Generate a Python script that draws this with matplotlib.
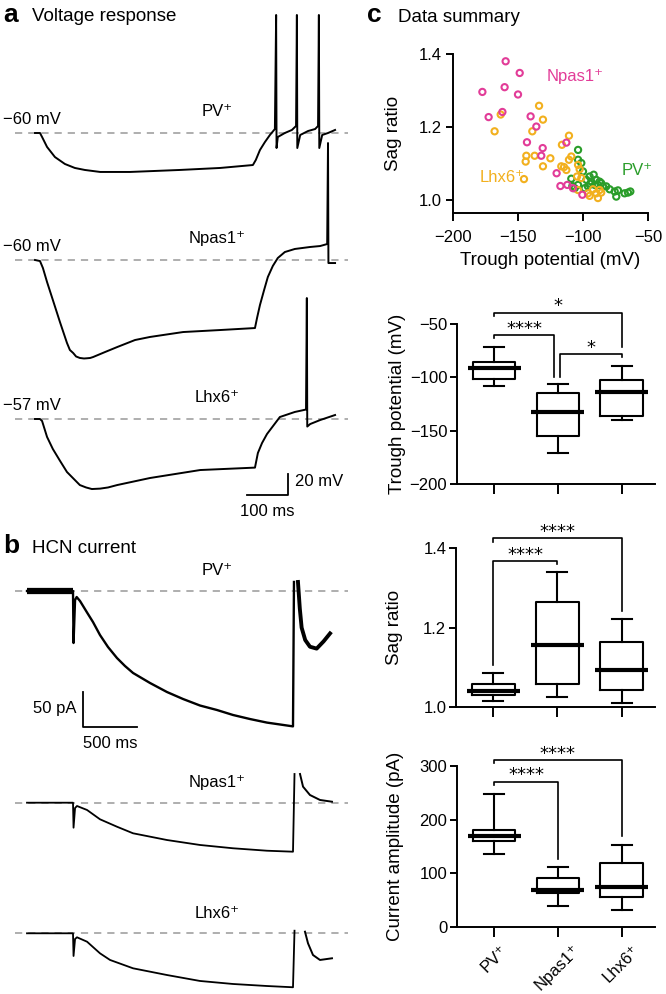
import matplotlib
matplotlib.use("Agg")
import matplotlib.pyplot as plt

plt.rcParams['font.family'] = ['Liberation Sans', 'DejaVu Sans']
plt.rcParams['font.size'] = 12

# ---- data -------------------------------------------------------------
CELLS = ["PV\u207a", "Npas1\u207a", "Lhx6\u207a"]
PV_COL, NP_COL, LH_COL = "#2a9d2a", "#e23c98", "#f2b01e"
GREY = "#a8a8a8"

# a: voltage responses (ms, mV)
PV_T = [-12, 0, 5, 17, 36, 60, 84, 108, 145, 217, 337, 434, 513, 520, 530, 542, 554, 566,
        569, 570, 573, 590, 607, 617, 619, 620, 627, 646, 663, 670, 672, 673, 680, 694, 711]
PV_V = [-60, -60, -63.8, -73.3, -82.9, -89.5, -93.3, -95.2, -97.1, -97.1, -95.2, -93.3, -90.5,
        -85.7, -76.2, -68.6, -61.9, -56.2, 52.4, -74.3, -63.8, -60, -57.1, -53.3, 52.4, -74.3,
        -61.9, -58.1, -56.2, -53.3, 52.4, -74.3, -61.9, -60, -57.1]
NP_T = [-12, 0, 7, 17, 31, 48, 65, 72, 80, 87, 96, 106, 113, 121, 128, 157, 186, 229, 265, 345,
        434, 518, 523, 530, 540, 549, 561, 573, 590, 614, 651, 675, 692, 694, 695, 699, 711]
NP_V = [-60, -61, -67.6, -81, -98.1, -119, -139, -145.7, -148.6, -151.9, -153.3, -153.8, -153.6,
        -153.3, -152.4, -147.6, -142.9, -136.2, -133.3, -128.6, -126.7, -124.8, -115.2, -102.9,
        -88.6, -76.2, -65.7, -58.1, -52.4, -49.5, -47.6, -46.7, -44.8, 51.4, -62.9, -62.9, -62.9]
LH_T = [-12, 0, 5, 17, 31, 48, 65, 96, 111, 125, 145, 164, 186, 265, 386, 518, 525, 535, 547,
        578, 614, 641, 643, 644, 651, 675, 711]
LH_V = [-57, -57, -58.9, -74.1, -85.6, -96.7, -107.5, -119.9, -122.2, -123.7, -123.3, -122.2,
        -119.9, -113.2, -105.6, -103.3, -89.4, -79.9, -71.3, -55.1, -50.3, -48, 58.2, -64.2,
        -61.8, -58, -53.2]
A_BASE = [-60, -60, -57]
A_BASE_TXT = ["\u221260 mV", "\u221260 mV", "\u221257 mV"]

# b: HCN currents (ms, pA relative to holding)
PV_I_T = [-426, 0, 5, 19, 34, 65, 130, 185, 250, 324, 407, 481, 556, 713, 870, 1019, 1176, 1333,
          1481, 1639, 1796, 1917, 2037, 2046]
PV_I = [0, 0, -74.3, -12.9, -8.6, -14.3, -30.7, -44.3, -62.9, -80, -95.7, -107.1, -117.1, -131.4,
        -144.3, -154.3, -163.6, -170, -177.1, -182.9, -188, -190.7, -193.4, 12.9]
PV_TAIL_T = [2083, 2100, 2117, 2150, 2194, 2256, 2320, 2380]
PV_TAIL_I = [12.9, -25, -52.4, -70, -79.6, -82.3, -72, -60.6]
NP_I_T = [-426, 0, 5, 19, 37, 130, 250, 407, 556, 870, 1176, 1481, 1796, 2037, 2051]
NP_I = [0, 0, -35.7, -7.6, -4.7, -10.4, -23.7, -34.3, -43.7, -53.3, -60.4, -65.1, -68.6, -70, 41]
NP_TAIL_T = [2102, 2130, 2194, 2287, 2398]
NP_TAIL_I = [41, 22.9, 11, 3.9, 1.4]
LH_I_T = [-426, 0, 5, 19, 37, 130, 250, 343, 556, 870, 1176, 1481, 1796, 2037, 2051]
LH_I = [0, 0, -32.4, -8.1, -5.7, -12, -28.6, -38.1, -50, -59.6, -68.1, -72.4, -75.3, -77.1, 3.7]
LH_TAIL_T = [2148, 2176, 2222, 2287, 2398]
LH_TAIL_I = [2.3, -14.3, -31, -38.1, -35.7]

# c: scatter (trough potential mV, sag ratio)
PV_X = [-103.8, -103.8, -101.3, -100, -109, -108.2, -106.4, -103.8, -97.4, -94.9, -91.8, -93.6,
        -89.8, -87.2, -91, -88.5, -86, -84.6, -82.1, -79.5, -75.6, -73.1, -74.4, -68, -65.4,
        -63.6, -96.2, -98.7, -94.4]
PV_Y = [1.137, 1.11, 1.101, 1.078, 1.058, 1.038, 1.032, 1.041, 1.055, 1.064, 1.069, 1.05, 1.055,
        1.05, 1.041, 1.041, 1.046, 1.037, 1.037, 1.029, 1.023, 1.026, 1.009, 1.018, 1.02, 1.023,
        1.037, 1.032, 1.044]
LH_X = [-133.8, -130.8, -163.3, -168, -139, -143.6, -137.2, -144.1, -130.8, -125.1, -145.4,
        -116.2, -114.6, -110.8, -110.8, -109, -112.8, -116.7, -103.8, -102.6, -104.6, -101.3,
        -103.8, -96.2, -94.9, -89.8, -88.5, -87.2, -86, -92.3]
LH_Y = [1.258, 1.22, 1.234, 1.188, 1.188, 1.121, 1.121, 1.105, 1.092, 1.114, 1.057, 1.151, 1.09,
        1.176, 1.11, 1.119, 1.082, 1.092, 1.096, 1.084, 1.064, 1.06, 1.027, 1.018, 1.011, 1.018,
        1.005, 1.027, 1.02, 1.029]
NP_X = [-159.5, -148.7, -160.3, -177.4, -150, -172.6, -162, -140.3, -135.9, -143.1, -131, -132.1,
        -112.8, -120.3, -117.4, -112.1, -107.7, -100.5]
NP_Y = [1.38, 1.348, 1.309, 1.296, 1.289, 1.227, 1.241, 1.229, 1.201, 1.158, 1.142, 1.121, 1.157,
        1.073, 1.038, 1.041, 1.032, 1.014]

# c: box plot summaries (whislo, q1, med, q3, whishi) for PV, Npas1, Lhx6
TROUGH = [(-107.8, -101.9, -91.6, -86, -71.25), (-171.25, -155, -132.8, -115, -106.25),
          (-140, -136.25, -113.75, -102.5, -89.4)]
SAG = [(1.014, 1.030, 1.040, 1.057, 1.086), (1.026, 1.059, 1.157, 1.264, 1.339),
       (1.009, 1.044, 1.094, 1.164, 1.221)]
CURRENT = [(136.25, 159.4, 168.75, 181.25, 248.75), (38.75, 62.5, 68.75, 90.6, 111.25),
           (32.5, 56.25, 73.75, 118.75, 153)]
# brackets: x left, x right, bar height, left leg end, right leg end, label
TROUGH_BR = [(0, 2, -39.4, -42.5, -71.25, "*"), (0, 0.94, -60.3, -63.4, -99.4, "****"),
             (1.03, 2, -78.1, -99.4, -81.25, "*")]
SAG_BR = [(0, 2, 1.425, 1.416, 1.241, "****"), (0, 1, 1.367, 1.106, 1.361, "****")]
CURRENT_BR = [(0, 2, 311.25, 305, 168.75, "****"), (0, 1, 270.6, 264.4, 126.25, "****")]

# ---- layout helpers ---------------------------------------------------
W, H = 666, 994
fig = plt.figure(figsize=(W / 100, H / 100), dpi=100)


def px_axes(left, top, right, bottom):
    return fig.add_axes([left / W, 1 - bottom / H, (right - left) / W, (bottom - top) / H])


def trace_axes(top, bottom, onset_px, base_px, base_val, sx, sy, left=15, right=348):
    ax = px_axes(left, top, right, bottom)
    ax.set_xlim((left - onset_px) / sx, (right - onset_px) / sx)
    ax.set_ylim(base_val - (bottom - base_px) / sy, base_val + (base_px - top) / sy)
    ax.axis("off")
    ax.axhline(base_val, color=GREY, lw=1.3, dashes=(4, 3.3))
    return ax


def fig_text(x, y, s, **kw):
    fig.text(x / W, 1 - y / H, s, va="baseline", **kw)


# ---- a: voltage response ---------------------------------------------
SX_A, SY_A = 0.415, 1.05
a_boxes = [(5, 185, 133), (135, 370, 260), (285, 520, 419)]
a_traces = [(PV_T, PV_V), (NP_T, NP_V), (LH_T, LH_V)]
for i, (top, bot, base_px) in enumerate(a_boxes):
    ax = trace_axes(top, bot, 40, base_px, A_BASE[i], SX_A, SY_A)
    ax.plot(a_traces[i][0], a_traces[i][1], color="k", lw=1.4, clip_on=False)
    ax.text(-89, A_BASE[i] + 12.4, A_BASE_TXT[i], ha="left", va="center", fontsize=12)
    ax.text(426, A_BASE[i] + 20, CELLS[i], ha="center", va="center", fontsize=12)
    if i == 2:
        t0, v0 = 597.6, -129.4
        ax.plot([t0 - 100, t0, t0], [v0, v0, v0 + 20], color="k", lw=1.3, clip_on=False)
        ax.text(t0 + 18, v0 + 12.5, "20 mV", ha="left", va="center", fontsize=12)
        ax.text(t0 - 49, v0 - 16, "100 ms", ha="center", va="center", fontsize=12)

fig_text(3, 22, "a", fontsize=19, fontweight="bold")
fig_text(32, 21, "Voltage response", fontsize=13.5)

# ---- b: HCN current ---------------------------------------------------
SX_B, SY_B = 0.108, 0.7
b_boxes = [(560, 745, 591), (760, 865, 802.7), (890, 994, 933.3)]
b_traces = [(PV_I_T, PV_I, PV_TAIL_T, PV_TAIL_I), (NP_I_T, NP_I, NP_TAIL_T, NP_TAIL_I),
            (LH_I_T, LH_I, LH_TAIL_T, LH_TAIL_I)]
for i, (top, bot, base_px) in enumerate(b_boxes):
    ax = trace_axes(top, bot, 73, base_px, 0, SX_B, SY_B)
    t, y, tt, ty = b_traces[i]
    lw = 1.7 if i == 0 else 1.3
    ax.plot(t, y, color="k", lw=lw, clip_on=False)
    ax.plot(tt, ty, color="k", lw=2.8 if i == 0 else 1.4, clip_on=False)
    if i == 0:
        ax.plot(t[:2], y[:2], color="k", lw=4.5, solid_capstyle="butt")
        t0, v0 = 92.6, -194.3
        ax.plot([t0, t0, t0 + 500], [v0 + 50, v0, v0], color="k", lw=1.3, clip_on=False)
        ax.text(t0 - 60, v0 + 27, "50 pA", ha="right", va="center", fontsize=12)
        ax.text(t0 + 250, v0 - 23, "500 ms", ha="center", va="center", fontsize=12)
    ax.text(1333, 29, CELLS[i], ha="center", va="center", fontsize=12)

fig_text(3, 553, "b", fontsize=19, fontweight="bold")
fig_text(32, 553, "HCN current", fontsize=13.5)

# ---- c: data summary --------------------------------------------------
fig_text(367, 22, "c", fontsize=19, fontweight="bold")
fig_text(398, 22, "Data summary", fontsize=13.5)


def style(ax):
    for s in ("top", "right"):
        ax.spines[s].set_visible(False)
    for s in ("left", "bottom"):
        ax.spines[s].set_linewidth(1.4)
    ax.patch.set_alpha(0)
    ax.tick_params(width=1.4, labelsize=12)


sc = px_axes(453, 54, 648, 213)
style(sc)
for xs, ys, col in [(PV_X, PV_Y, PV_COL), (LH_X, LH_Y, LH_COL), (NP_X, NP_Y, NP_COL)]:
    sc.scatter(xs, ys, s=20, facecolors="none", edgecolors=col, linewidths=1.5, clip_on=False)
sc.set_xlim(-200, -50)
sc.set_ylim(0.964, 1.4)
sc.set_xticks([-200, -150, -100, -50])
sc.set_yticks([1.0, 1.2, 1.4])
sc.tick_params(axis="x", length=6, pad=6)
sc.tick_params(axis="y", length=5, pad=3)
sc.set_xlabel("Trough potential (mV)", fontsize=13.5, va="center")
sc.xaxis.set_label_coords(0.5, -0.296)
sc.set_ylabel("Sag ratio", fontsize=13.5, va="center")
sc.yaxis.set_label_coords(-0.303, 0.5)
sc.text(-127.7, 1.337, CELLS[1], color=NP_COL, ha="left", va="center", fontsize=12)
sc.text(-179.5, 1.062, CELLS[2], color=LH_COL, ha="left", va="center", fontsize=12)
sc.text(-70, 1.081, CELLS[0], color=PV_COL, ha="left", va="center", fontsize=12)


def box_panel(top, bottom, left, data, ylim, yticks, ylabel, label_x, brs, xlabels=False):
    ax = px_axes(left, top, 655, bottom)
    style(ax)
    stats = [dict(whislo=d[0], q1=d[1], med=d[2], q3=d[3], whishi=d[4], fliers=[]) for d in data]
    pos = [0, 1, 2]
    ax.bxp(stats, positions=pos, widths=0.67, capwidths=0.31, showfliers=False,
           boxprops=dict(lw=1.5), whiskerprops=dict(lw=1.5), capprops=dict(lw=1.5),
           medianprops=dict(visible=False), manage_ticks=False)
    ax.hlines([d[2] for d in data], [p - 0.415 for p in pos], [p + 0.415 for p in pos],
              color="k", lw=3)
    ax.set_xlim(-0.58, 2.52)
    ax.set_ylim(*ylim)
    ax.set_yticks(yticks)
    ax.set_xticks(pos)
    ax.tick_params(axis="x", length=7, pad=4)
    ax.tick_params(axis="y", length=5, pad=2)
    if xlabels:
        ax.set_xticklabels(CELLS, rotation=45, ha="center", fontsize=12)
    else:
        ax.set_xticklabels([])
    ax.set_ylabel(ylabel, fontsize=13.5, va="center")
    ax.yaxis.set_label_coords(label_x, 0.5)
    for x1, x2, y, y1, y2, lab in brs:
        ax.plot([x1, x1, x2, x2], [y1, y, y, y2], color="k", lw=1.2, clip_on=False)
        ax.annotate(lab, ((x1 + x2) / 2, y), xytext=(0, 1), textcoords="offset points",
                    ha="center", va="baseline", fontsize=13, family="DejaVu Sans",
                    annotation_clip=False)
    return ax


box_panel(324, 484, 457, TROUGH, (-200, -50), [-200, -150, -100, -50],
          "Trough potential (mV)", -0.303, TROUGH_BR)
box_panel(548, 707, 456, SAG, (1.0, 1.4), [1.0, 1.2, 1.4], "Sag ratio", -0.307, SAG_BR)
box_panel(766, 927, 457, CURRENT, (0, 300), [0, 100, 200, 300],
          "Current amplitude (pA)", -0.313, CURRENT_BR, xlabels=True)

fig.savefig("out.png", dpi=100)
